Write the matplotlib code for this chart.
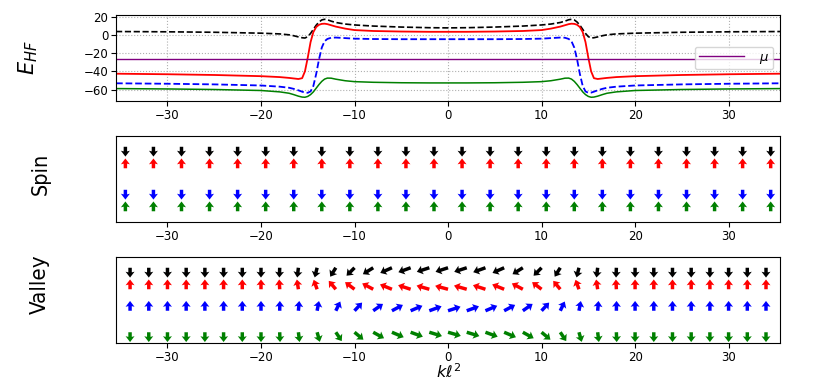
import numpy as np
import matplotlib
matplotlib.use("Agg")
import matplotlib.pyplot as plt

# bandas Hartree-Fock (top panel)
k_e = [-35.5, -30, -25, -20, -18, -17, -16.5, -16, -15.6, -15.3, -15.0, -14.7, -14.4,
       -14.1, -13.8, -13.5, -13.2, -12.9, -12.5, -12, -11, -10, -8, -5, -2, 0,
       2, 5, 8, 10, 11, 12, 12.5, 12.9, 13.2, 13.5, 13.8, 14.1, 14.4, 14.7, 15.0,
       15.3, 15.6, 16, 16.5, 17, 18, 20, 25, 30, 35.5]
e_negro = [3.6, 3.3, 2.8, 1.8, 1.0, 0.0, -1.0, -2.3, -3.2, -3.5, -2.0, 1.5, 6.0,
           10.5, 14.0, 16.3, 17.0, 16.5, 15.0, 13.5, 11.8, 10.8, 9.6, 8.5, 7.8, 7.6,
           7.8, 8.5, 9.6, 10.8, 11.8, 13.5, 15.0, 16.5, 17.0, 16.3, 14.0, 10.5, 6.0, 1.5, -2.0,
           -3.5, -3.2, -2.3, -1.0, 0.0, 1.0, 1.8, 2.8, 3.3, 3.6]
e_rojo = [-42.6, -43.2, -44.0, -45.3, -46.3, -47.2, -47.8, -48.4, -47.5, -40.0, -25.0, -8.0, 3.0,
          8.5, 11.0, 12.0, 12.2, 11.7, 10.5, 9.0, 6.8, 5.2, 4.2, 3.6, 3.3, 3.3,
          3.3, 3.6, 4.2, 5.2, 6.8, 9.0, 10.5, 11.7, 12.2, 12.0, 11.0, 8.5, 3.0, -8.0, -25.0,
          -40.0, -47.5, -48.4, -47.8, -47.2, -46.3, -45.3, -44.0, -43.2, -42.6]
e_azul = [-53.1, -53.6, -54.3, -55.5, -56.8, -58.0, -59.2, -60.8, -62.3, -63.3, -63.5, -62.0, -56.0,
          -43.0, -27.0, -14.0, -7.0, -4.5, -3.2, -3.0, -3.6, -4.2, -4.6, -4.8, -4.8, -4.8,
          -4.8, -4.8, -4.6, -4.2, -3.6, -3.0, -3.2, -4.5, -7.0, -14.0, -27.0, -43.0, -56.0, -62.0, -63.5,
          -63.3, -62.3, -60.8, -59.2, -58.0, -56.8, -55.5, -54.3, -53.6, -53.1]
e_verde = [-58.9, -59.3, -59.9, -61.0, -62.5, -64.0, -65.5, -67.2, -68.2, -68.4, -67.5, -65.5, -62.5,
           -58.5, -54.5, -51.0, -48.5, -47.4, -47.5, -48.6, -50.3, -51.3, -52.0, -52.5, -52.7, -52.7,
           -52.7, -52.5, -52.0, -51.3, -50.3, -48.6, -47.5, -47.4, -48.5, -51.0, -54.5, -58.5, -62.5, -65.5, -67.5,
           -68.4, -68.2, -67.2, -65.5, -64.0, -62.5, -61.0, -59.9, -59.3, -58.9]
mu = -26.3

# spin (middle panel)
k_spin = [-34.5, -31.5, -28.5, -25.5, -22.5, -19.5, -16.5, -13.5, -10.5, -7.5, -4.5, -1.5,
          1.5, 4.5, 7.5, 10.5, 13.5, 16.5, 19.5, 22.5, 25.5, 28.5, 31.5, 34.5]
spin_negro = -1
spin_rojo = 1
spin_azul = -1
spin_verde = 1

# valle (bottom panel), angulo visto desde la vertical en grados
k_valle = [-34, -32, -30, -28, -26, -24, -22, -20, -18, -16, -14, -12, -10, -8, -6, -4, -2, 0,
           2, 4, 6, 8, 10, 12, 14, 16, 18, 20, 22, 24, 26, 28, 30, 32, 34]
ang_negro = [0, 0, 0, 0, 0, 0, 0, 0, 2, 7, 14, 32, 45, 58, 66, 70, 72, 72,
             72, 70, 66, 58, 45, 32, 14, 7, 2, 0, 0, 0, 0, 0, 0, 0, 0]
ang_rojo = [0, 0, 0, 0, 0, 0, 0, 0, 3, 9, 20, 40, 53, 62, 68, 72, 74, 75,
            74, 72, 68, 62, 53, 40, 20, 9, 3, 0, 0, 0, 0, 0, 0, 0, 0]
ang_azul = [0, 0, 0, 0, 0, 0, 0, 0, 1, 5, 11, 26, 43, 55, 62, 67, 70, 72,
            70, 67, 62, 55, 43, 26, 11, 5, 1, 0, 0, 0, 0, 0, 0, 0, 0]
ang_verde = [0, 0, 0, 0, 0, 0, 0, 0, 2, 7, 16, 34, 50, 61, 67, 70, 73, 74,
             73, 70, 67, 61, 50, 34, 16, 7, 2, 0, 0, 0, 0, 0, 0, 0, 0]

estirado = 1.4
fuente_lado = ['Liberation Sans Narrow', 'DejaVu Sans']


def flechas(ax, k, fila, ang, sx, sy, color):
    t = np.radians(ang)
    a = np.arctan(np.tan(t) / estirado)
    u = sx * estirado * np.sin(a)
    v = sy * np.cos(a)
    ax.quiver(k, np.full(len(k), fila), u, v, color=color, angles='uv',
              scale_units='inches', scale=10.2, width=0.0052, headwidth=2.6,
              headlength=1.7, headaxislength=1.5, pivot='tail')


fig = plt.figure(figsize=(8.3, 3.82), dpi=100)

ax1 = fig.add_axes([0.1398, 0.7356, 0.8, 0.2251])
ax1.plot(k_e, e_negro, 'k--', lw=1.2)
ax1.plot(k_e, e_rojo, 'r-', lw=1.3)
ax1.plot(k_e, e_azul, 'b--', lw=1.3)
ax1.plot(k_e, e_verde, 'g-', lw=1.1)
ax1.axhline(mu, color='purple', lw=1.0, label=r'$\mu$')
ax1.set_xlim(-35.5, 35.5)
ax1.set_ylim(-72.5, 21.7)
ax1.set_yticks([-60, -40, -20, 0, 20])
ax1.set_xticks([-30, -20, -10, 0, 10, 20, 30])
ax1.grid(True, ls=':', color='#b0b0b0', lw=0.8)
ax1.legend(loc='center right', fontsize=9.5, handlelength=3.4, handletextpad=1.2,
           borderpad=0.3)
ax1.set_ylabel(r'$E_{HF}$', fontsize=15)
ax1.yaxis.set_label_coords(-0.114, 0.5)

ax2 = fig.add_axes([0.1398, 0.4188, 0.8, 0.2251])
flechas(ax2, k_spin, 3.5, np.zeros(len(k_spin)), 1, spin_negro, 'k')
flechas(ax2, k_spin, 2.5, np.zeros(len(k_spin)), 1, spin_rojo, 'r')
flechas(ax2, k_spin, 1.5, np.zeros(len(k_spin)), 1, spin_azul, 'b')
flechas(ax2, k_spin, 0.5, np.zeros(len(k_spin)), 1, spin_verde, 'g')
ax2.set_xlim(-35.5, 35.5)
ax2.set_ylim(0, 4)
ax2.set_yticks([])
ax2.set_xticks([-30, -20, -10, 0, 10, 20, 30])
ax2.set_ylabel('Spin', fontsize=15.5, family=fuente_lado, fontstretch='condensed')
ax2.yaxis.set_label_coords(-0.099, 0.56)

ax3 = fig.add_axes([0.1398, 0.1021, 0.8, 0.2251])
flechas(ax3, k_valle, 3.5, ang_negro, -1, -1, 'k')
flechas(ax3, k_valle, 2.5, ang_rojo, -1, 1, 'r')
flechas(ax3, k_valle, 1.5, ang_azul, 1, 1, 'b')
flechas(ax3, k_valle, 0.5, ang_verde, 1, -1, 'g')
ax3.set_xlim(-35.5, 35.5)
ax3.set_ylim(0, 4)
ax3.set_yticks([])
ax3.set_xticks([-30, -20, -10, 0, 10, 20, 30])
ax3.set_ylabel('Valley', fontsize=16, family=fuente_lado, fontstretch='condensed')
ax3.yaxis.set_label_coords(-0.099, 0.68)
ax3.set_xlabel(r'$k\ell^2$', fontsize=11.5)
ax3.xaxis.set_label_coords(0.5, -0.23)

for ax in (ax1, ax2, ax3):
    ax.tick_params(labelsize=8.5, length=3.5, pad=2)

fig.savefig('out.png', dpi=100)
